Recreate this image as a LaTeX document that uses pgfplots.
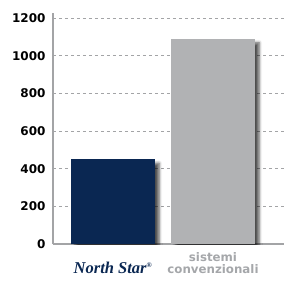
\documentclass[border=0pt]{standalone}
\usepackage{pgfplots}
\pgfplotsset{compat=1.18}
\usepackage{fontspec}
\setmainfont{DejaVu Sans}
\newfontfamily\serifbi{Liberation Serif}
\usetikzlibrary{shadows.blur}
\definecolor{navy}{HTML}{0A2752}
\definecolor{bargray}{HTML}{B1B2B4}
\definecolor{axgray}{HTML}{A3A4A6}
\definecolor{labgray}{HTML}{A5A7AA}
\begin{document}
\begin{tikzpicture}
\begin{axis}[
  anchor=south west, at={(0,0)},
  scale only axis, width=231pt, height=231pt,
  xmin=-0.6, xmax=1.71, ymin=0, ymax=1227,
  axis x line=bottom, axis y line=left,
  axis line style={axgray, line width=2pt, -},
  x axis line style={line width=1.5pt},
  ytick={0,200,400,600,800,1000,1200},
  xtick={0,1},
  xticklabels={{\serifbi\bfseries\itshape\color{navy}\fontsize{16.5}{16}\selectfont\rule{0pt}{21pt}North Star\textsuperscript{\scriptsize\textregistered}},{\color{labgray}\bfseries sistemi\\\color{labgray}\bfseries convenzionali}},
  xticklabel style={align=center, font=\fontsize{11.8}{11.5}\selectfont, anchor=north, yshift=-5pt},
  yticklabel style={font=\fontsize{12}{14}\selectfont\bfseries, xshift=-4pt},
  /pgf/number format/assume math mode=true,
  /pgf/number format/1000 sep={},
  major tick length=0pt,
  ymajorgrids, grid style={axgray, dashed, line width=0.7pt, dash pattern=on 3pt off 3pt},
  ybar, bar width=84pt, bar shift=0pt,
]
\addplot[fill=navy, draw=none, blur shadow={shadow xshift=4pt, shadow yshift=-4pt, shadow blur radius=3pt, shadow opacity=70}] coordinates {(0,450)};
\addplot[fill=bargray, draw=none, blur shadow={shadow xshift=4pt, shadow yshift=-4pt, shadow blur radius=3pt, shadow opacity=70}] coordinates {(1,1090)};
\end{axis}
\pgfresetboundingbox
\useasboundingbox (-53pt,-38pt) rectangle (231pt,244pt);
\end{tikzpicture}
\end{document}
